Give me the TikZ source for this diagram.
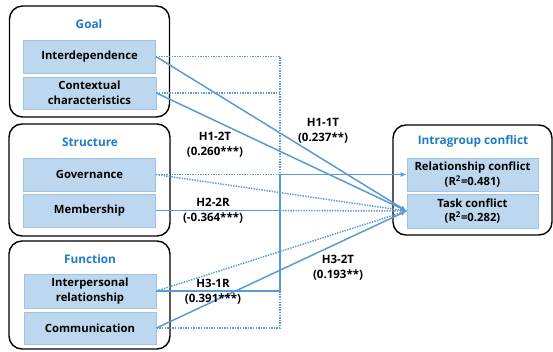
\documentclass[tikz,border=0pt]{standalone}
\usepackage{fontspec}
\setmainfont{Open Sans}
\usetikzlibrary{arrows.meta}
\definecolor{boxfill}{HTML}{BDD7EE}
\definecolor{boxline}{HTML}{9DC3E6}
\definecolor{titleblue}{HTML}{1F7BC8}
\definecolor{linkblue}{HTML}{5B9BD5}
\tikzset{
  group/.style={draw=black, line width=1.4pt, rounded corners=13pt},
  item/.style={draw=boxline, fill=boxfill, line width=0.8pt, align=center,
    font=\fontsize{11.3}{14.5}\selectfont\bfseries, inner sep=0pt},
  gtitle/.style={text=titleblue, font=\fontsize{11.8}{14}\selectfont\bfseries},
  lab/.style={align=center, font=\fontsize{11.5}{15}\selectfont\bfseries},
  sol/.style={draw=linkblue, line width=1.5pt},
  dot/.style={draw=linkblue, line width=1.5pt, dash pattern=on 1.4pt off 1.2pt},
  arr/.style={-{Latex[length=6pt,width=5pt]}},
}
\begin{document}
\begin{tikzpicture}[x=1pt,y=-1pt]
\useasboundingbox (0,0) rectangle (553,351);
% group frames
\node[group, minimum width=160pt, minimum height=111pt] (goalbox) at (89.5,61.5) {};
\node[group, minimum width=161pt, minimum height=112pt] (structbox) at (89.5,180) {};
\node[group, minimum width=161pt, minimum height=108pt] (funcbox) at (89.5,295) {};
\node[group, minimum width=159pt, minimum height=110pt] (igbox) at (472.5,180) {};
% titles
\node[gtitle] (goalt) at (89,24) {Goal};
\node[gtitle] (structt) at (90,142) {Structure};
\node[gtitle] (funct) at (90,259) {Function};
\node[gtitle] (igt) at (473,141) {Intragroup conflict};
% items
\node[item, minimum width=132pt, minimum height=33pt] (inter) at (89.5,56.5) {Interdependence};
\node[item, minimum width=133pt, minimum height=32pt] (context) at (89.5,93) {Contextual\\characteristics};
\node[item, minimum width=132pt, minimum height=33pt] (gov) at (89.5,174.5) {Governance};
\node[item, minimum width=132pt, minimum height=33pt] (memb) at (89.5,210.5) {Membership};
\node[item, minimum width=132pt, minimum height=34pt] (interp) at (90,291) {Interpersonal\\relationship};
\node[item, minimum width=132pt, minimum height=32pt] (comm) at (90,328) {Communication};
\node[item, minimum width=131pt, minimum height=33pt] (rel) at (472.5,174.5) {Relationship conflict\\(R\textsuperscript{2}=0.481)};
\node[item, minimum width=131pt, minimum height=34pt] (task) at (472.5,211) {Task conflict\\(R\textsuperscript{2}=0.282)};
% bus coordinates
\coordinate (bInter) at (280,56.5);
\coordinate (bCont) at (280,93);
\coordinate (bGov) at (280,174.5);
\coordinate (bMemb) at (280,210.5);
\coordinate (bInterp) at (280,291);
\coordinate (bComm) at (280,328);
% dotted connectors
\path[dot] (inter.east) -- (bInter) -- (bComm) -- (comm.east);
\path[dot] (context.east) -- (bCont);
\path[dot] (gov.east) -- (bGov);
\path[dot] (gov.east) -- (task.west);
\path[dot] (bMemb) -- (task.west);
\path[dot] (interp.east) -- (task.west);
% solid connectors
\path[sol] (memb.east) -- (bMemb);
\path[sol] (interp.east) -- (bInterp) -- (bGov);
\path[sol, arr] (bGov) -- (rel.west);
\path[sol, arr] (inter.east) -- (task.west);
\path[sol, arr] (context.east) -- (task.west);
\path[sol, arr] (comm.east) -- (task.west);
% labels
\node[lab] (l12) at (215,145) {H1-2T\\(0.260***)};
\node[lab] (l11) at (323,131) {H1-1T\\(0.237**)};
\node[lab] (l22) at (213,211) {H2-2R\\(-0.364***)};
\node[lab] (l31) at (213,292) {H3-1R\\(0.391***)};
\node[lab] (l32) at (338,268) {H3-2T\\(0.193**)};
\end{tikzpicture}
\end{document}
